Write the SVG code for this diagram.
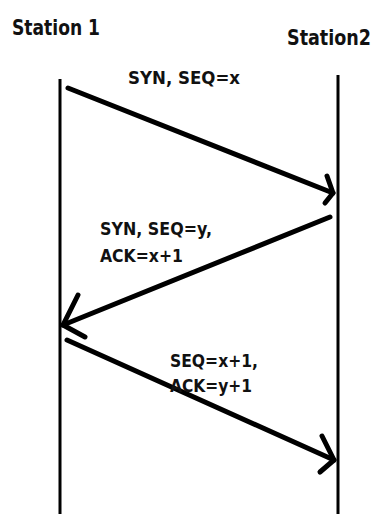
<svg xmlns="http://www.w3.org/2000/svg" width="376" height="514" viewBox="0 0 376 514">
<style>
text{font-family:"DejaVu Sans Condensed","DejaVu Sans",sans-serif;font-weight:bold;fill:#111}
.hd{font-size:21px}
.lb{font-size:18px}
.life{stroke:#000;stroke-width:3;fill:none}
.msg{stroke:#000;stroke-width:5;fill:none;stroke-linecap:round;stroke-linejoin:round}
</style>
<rect width="376" height="514" fill="#fff"/>
<g id="station1">
<text class="hd" x="12" y="35" textLength="88" lengthAdjust="spacingAndGlyphs">Station 1</text>
<line class="life" x1="60" y1="79" x2="60" y2="514"/>
</g>
<g id="station2">
<text class="hd" x="287" y="45" textLength="84" lengthAdjust="spacingAndGlyphs">Station2</text>
<line class="life" x1="338" y1="75" x2="338" y2="514"/>
</g>
<g id="connectors">
<path class="msg" d="M68 88 L333 193"/>
<path class="msg" d="M327 176 L333 193 L325 203"/>
<path class="msg" d="M330 217 L63 325"/>
<path class="msg" d="M78 295 L63 325 L85 337"/>
<path class="msg" d="M67 340 L334 460"/>
<path class="msg" d="M322 436 L334 460 L320 472"/>
</g>
<g id="labels">
<text class="lb" x="128" y="84" textLength="112" lengthAdjust="spacingAndGlyphs">SYN, SEQ=x</text>
<text class="lb" x="100" y="235" textLength="112" lengthAdjust="spacingAndGlyphs">SYN, SEQ=y,</text>
<text class="lb" x="100" y="262" textLength="83" lengthAdjust="spacingAndGlyphs">ACK=x+1</text>
<text class="lb" x="170" y="367" textLength="88" lengthAdjust="spacingAndGlyphs">SEQ=x+1,</text>
<text class="lb" x="170" y="392" textLength="82" lengthAdjust="spacingAndGlyphs">ACK=y+1</text>
</g>
</svg>
